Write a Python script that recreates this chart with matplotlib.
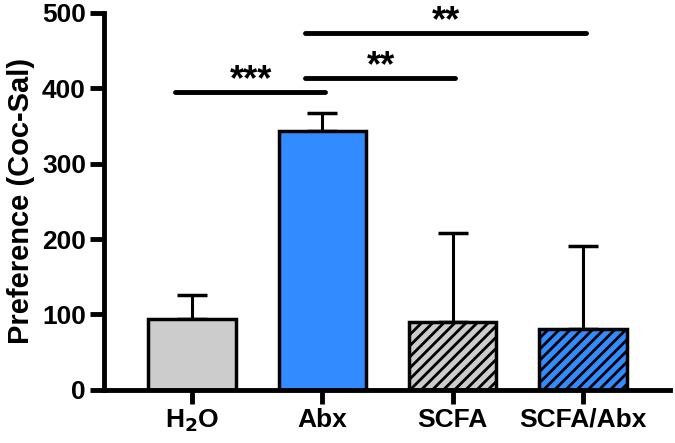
import matplotlib.pyplot as plt
import numpy as np

plt.rcParams['font.family'] = ['Liberation Sans', 'DejaVu Sans']
plt.rcParams['font.weight'] = 'bold'
plt.rcParams['mathtext.default'] = 'bf'
plt.rcParams['hatch.linewidth'] = 2.0

groups = ['H$_2$O', 'Abx', 'SCFA', 'SCFA/Abx']
means = [94, 343, 90, 81]
errs = [32, 24, 118, 110]
colors = ['#cccccc', '#338cff', '#cccccc', '#338cff']
hatches = ['', '', '///', '///']

# significance bars: (from, to, y, label)
sig = [(0, 1, 395, '***'), (1, 2, 414, '**'), (1, 3, 473, '**')]

fig = plt.figure(figsize=(6.75, 4.43), dpi=100)
ax = fig.add_axes([0.154, 0.12, 0.839, 0.851])

x = np.arange(len(groups))
ax.bar(x, means, 0.67, color=colors, edgecolor='black', linewidth=2.5,
       hatch=hatches, zorder=2)
ax.errorbar(x, means, yerr=[np.zeros(len(errs)), errs], fmt='none',
            ecolor='black', elinewidth=2.2, capsize=11, capthick=2.5, zorder=1)

for a, b, y, lab in sig:
    ax.plot([a - 0.13, b + 0.02], [y, y], color='black', lw=3.5,
            solid_capstyle='round', clip_on=False)
    ax.text((a + b) / 2 - 0.05, y - 8, lab, ha='center', va='bottom',
            fontsize=26, fontweight='bold', clip_on=False)

ax.set_xlim(-0.675, 3.67)
ax.set_ylim(0, 500)
ax.set_yticks([0, 100, 200, 300, 400, 500])
ax.set_xticks(x)
ax.set_xticklabels(groups)
ax.set_ylabel('Preference (Coc-Sal)', fontsize=21, fontweight='bold', labelpad=5)

for s in ['top', 'right']:
    ax.spines[s].set_visible(False)
for s in ['left', 'bottom']:
    ax.spines[s].set_linewidth(3.5)
ax.tick_params(axis='both', width=3.5, length=10, labelsize=19, pad=3)

fig.savefig('out.png', dpi=100)
